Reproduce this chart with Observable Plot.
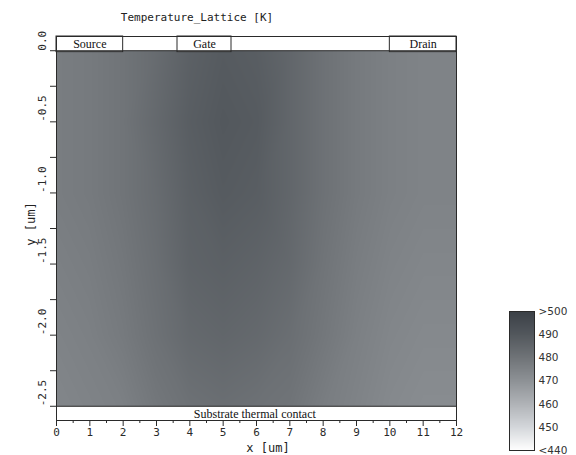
<!DOCTYPE html>
<html>
<head>
<meta charset="utf-8">
<script src="https://cdn.jsdelivr.net/npm/d3@7"></script>
<script src="https://cdn.jsdelivr.net/npm/@observablehq/plot@0.6"></script>
<style>
  html, body { margin: 0; padding: 0; background: #fff; }
  #wrap { position: relative; width: 576px; height: 455px; background: #fff; overflow: hidden; }
  #wrap svg { position: absolute; }
  .lbl { position: absolute; white-space: nowrap; color: #222; font-family: "DejaVu Sans Mono", monospace; }
</style>
</head>
<body>
<div id="wrap">
  <div class="lbl" id="title" style="left:197px;top:17px;transform:translate(-50%,-50%);font-size:11px;">Temperature_Lattice [K]</div>
  <div class="lbl" id="xlab" style="left:268px;top:448px;transform:translate(-50%,-50%);font-size:12px;">x [um]</div>
  <div class="lbl" id="ylab" style="left:31px;top:224px;transform:translate(-50%,-50%) rotate(-90deg);font-size:12px;">y [um]</div>
</div>
<script>
// ---- data ----
const xs = [0, 1, 2, 3, 4, 5, 6, 7, 8, 9, 10, 11, 12];
const ys = [0, -0.5, -1.0, -1.5, -2.0, -2.5];
const tempY00 = [477, 478, 480, 483, 487, 489, 488, 485, 481, 478, 476, 475, 475];
const tempY05 = [477, 478, 480, 484, 488, 490, 489, 485, 481, 478, 476, 475, 475];
const tempY10 = [477, 478, 480, 483, 487, 489, 488, 485, 481, 478, 476, 475, 475];
const tempY15 = [476, 477, 479, 482, 486, 487, 486, 484, 480, 477, 475, 474, 474];
const tempY20 = [475, 476, 478, 481, 484, 485, 484, 482, 479, 476, 474, 473, 473];
const tempY25 = [474, 475, 476, 479, 481, 482, 481, 480, 477, 475, 473, 472, 472];
const tempRows = [tempY00, tempY05, tempY10, tempY15, tempY20, tempY25];

const electrodes = ["Source", "Gate", "Drain"];
const electrodeX1 = [0, 3.63, 10];
const electrodeX2 = [2, 5.25, 12];
const substrateLabel = "Substrate thermal contact";

const xTicks = [0, 1, 2, 3, 4, 5, 6, 7, 8, 9, 10, 11, 12];
const xMinor = [0.5, 1.5, 2.5, 3.5, 4.5, 5.5, 6.5, 7.5, 8.5, 9.5, 10.5, 11.5];
const yTicks = [0, -0.5, -1.0, -1.5, -2.0, -2.5];
const yTickLabels = ["0.0", "-0.5", "-1.0", "-1.5", "-2.0", "-2.5"];
const yMinor = [-0.25, -0.75, -1.25, -1.75, -2.25];

const cbTicks = [500, 490, 480, 470, 460, 450, 440];
const cbLabels = [">500", "490", "480", "470", "460", "450", "<440"];
const cbStops = [440, 450, 460, 470, 480, 490, 500];
const cbColors = ["#ffffff", "#d4d7db", "#b0b3b7", "#8e9296", "#707478", "#53585d", "#3b4147"];

// ---- build tables ----
const grid = ys.flatMap((y, i) => xs.map((x, j) => ({x, y, t: tempRows[i][j]})));
const elec = electrodes.map((name, i) => ({name, x1: electrodeX1[i], x2: electrodeX2[i]}));

const colorScale = {type: "linear", domain: cbStops, range: cbColors, clamp: true};
const ink = "#2a2a2a";
const mono = "DejaVu Sans Mono, monospace";
const serif = "Liberation Serif, serif";

const main = Plot.plot({
  width: 576,
  height: 455,
  marginLeft: 56,
  marginRight: 120,
  marginTop: 36,
  marginBottom: 35,
  x: {domain: [0, 12], axis: null},
  y: {domain: [-2.6, 0.1], axis: null},
  color: colorScale,
  style: {fontFamily: mono, fontSize: "11px", color: ink, background: "transparent"},
  marks: [
    Plot.raster(grid, {x: "x", y: "y", fill: "t", interpolate: "barycentric", x1: 0, x2: 12, y1: -2.5, y2: 0}),
    Plot.rect(elec, {x1: "x1", x2: "x2", y1: -0.01, y2: 0.1, fill: "white", stroke: ink, strokeWidth: 1}),
    Plot.text(elec, {x: d => (d.x1 + d.x2) / 2, y: 0.047, text: "name", fontFamily: serif, fontSize: 12, fill: "#111"}),
    Plot.ruleY([0, -2.5], {stroke: ink, strokeWidth: 1}),
    Plot.text([substrateLabel], {x: 5.95, y: -2.553, text: d => d, fontFamily: serif, fontSize: 12, fill: "#111"}),
    Plot.frame({stroke: ink, strokeWidth: 1}),
    Plot.axisX({ticks: xTicks, tickSize: 6, tickPadding: 2, tickFormat: d => String(d), fontFamily: mono, fontSize: 11, stroke: ink, label: null}),
    Plot.axisX({ticks: xMinor, tickSize: 3, tickFormat: () => "", stroke: ink, label: null}),
    Plot.axisY({ticks: yTicks, tickSize: 6, tickFormat: () => "", stroke: ink, label: null}),
    Plot.axisY({ticks: yMinor, tickSize: 6, tickFormat: () => "", stroke: ink, label: null}),
    Plot.text(yTicks, {y: d => d, frameAnchor: "left", dx: -14, rotate: -90, text: (d, i) => yTickLabels[i], fontFamily: mono, fontSize: 11, fill: ink})
  ]
});
main.style.left = "0px";
main.style.top = "0px";

const cb = Plot.plot({
  width: 76,
  height: 160,
  marginLeft: 9,
  marginRight: 42,
  marginTop: 11,
  marginBottom: 10,
  x: {domain: [0, 1], axis: null},
  y: {domain: [440, 500], axis: null},
  color: colorScale,
  style: {background: "transparent"},
  marks: [
    Plot.raster({fill: (x, y) => y, x1: 0, x2: 1, y1: 440, y2: 500}),
    Plot.frame({stroke: ink, strokeWidth: 1}),
    Plot.text(cbTicks, {y: d => d, frameAnchor: "right", dx: 4, textAnchor: "start", text: (d, i) => cbLabels[i], fontFamily: "DejaVu Sans, sans-serif", fontSize: 10.5, fill: "#333", letterSpacing: 0.5})
  ]
});
cb.style.left = "500px";
cb.style.top = "300px";

const wrap = document.getElementById("wrap");
wrap.appendChild(main);
wrap.appendChild(cb);
</script>
</body>
</html>
